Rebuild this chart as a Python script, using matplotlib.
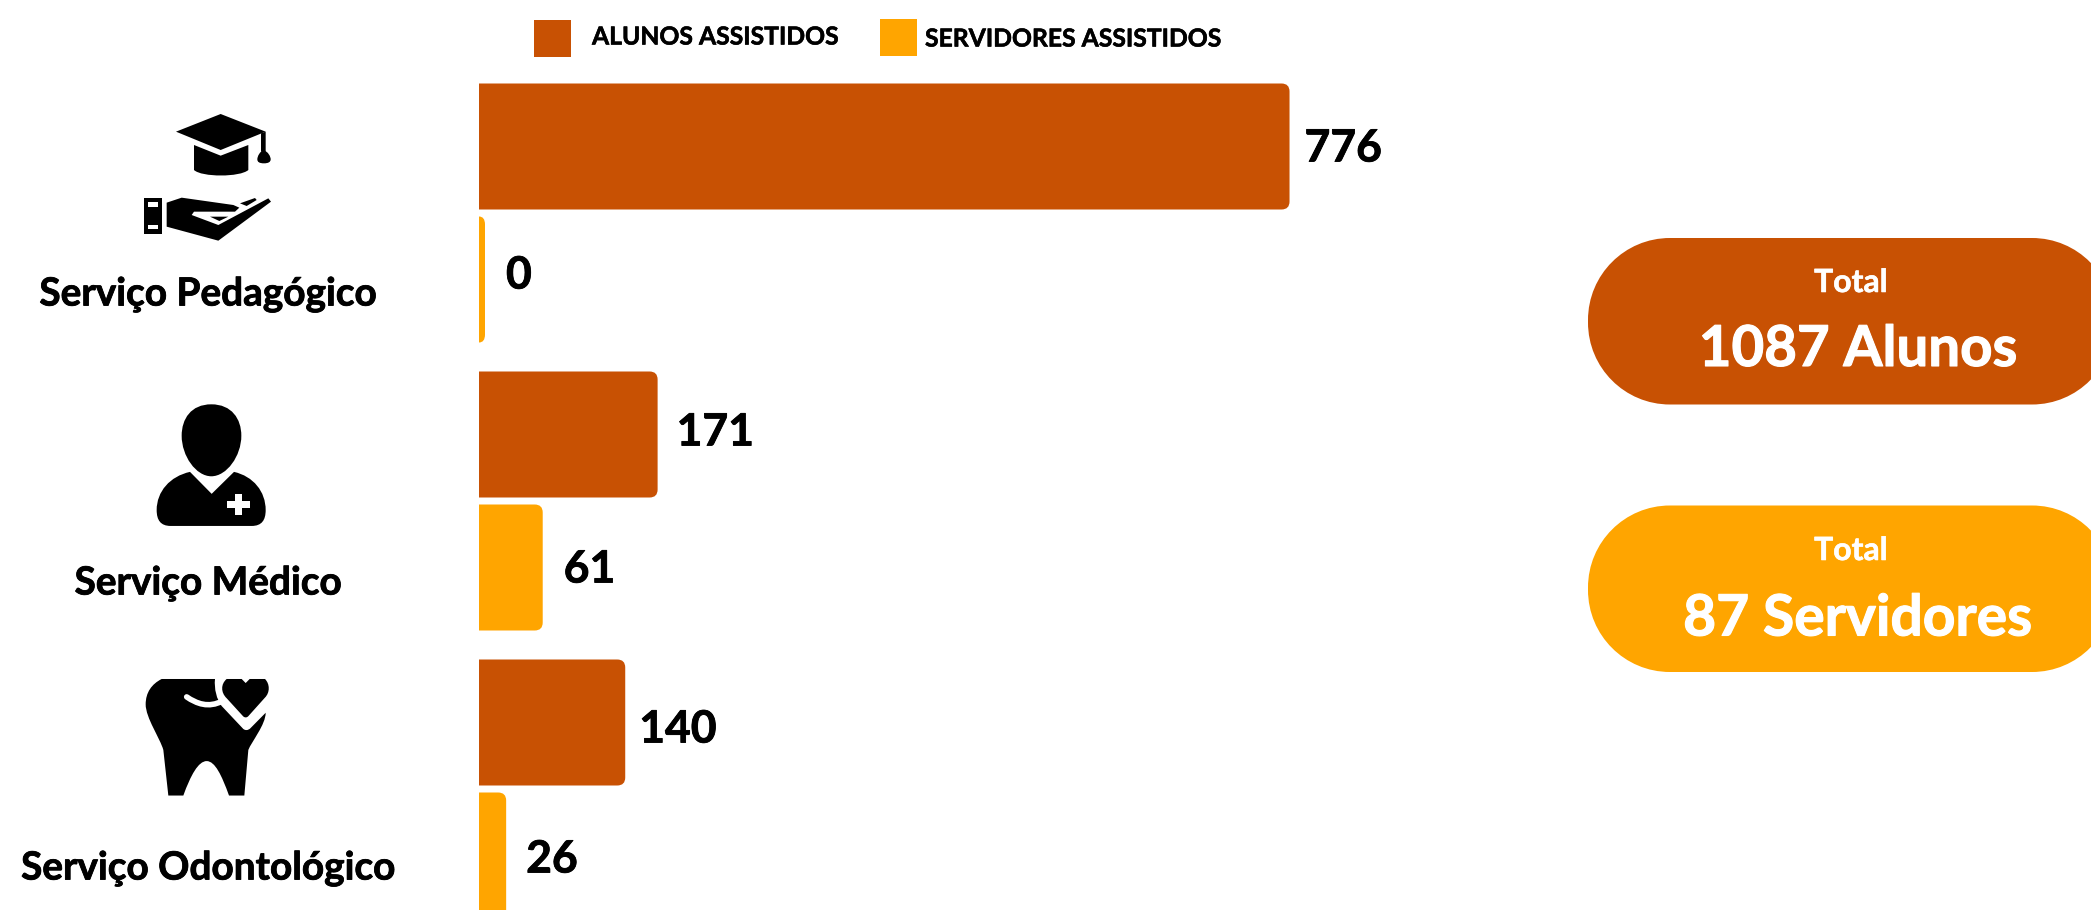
import matplotlib
matplotlib.use("Agg")
import matplotlib.pyplot as plt
import matplotlib.patheffects as pe
from matplotlib.path import Path
from matplotlib.patches import PathPatch, Rectangle, Polygon

plt.rcParams['font.family'] = ['Lato', 'DejaVu Sans']

categories = ["Serviço Pedagógico", "Serviço Médico", "Serviço Odontológico"]
alunos = [776, 171, 140]
servidores = [0, 61, 26]
legend_labels = ["ALUNOS ASSISTIDOS", "SERVIDORES ASSISTIDOS"]
total_labels = ["Total", "Total"]
total_values = ["1087 Alunos", "87 Servidores"]

DARK = "#C85103"
ORANGE = "#FFA500"
W, H = 2091, 910
PX_PER_UNIT = 1.0445
LEFT = 479
PITCH = 288
FIRST = 213
BAR_H = 126 / PITCH
OFF = 66.5 / PITCH
MIN_STUB = 6 / PX_PER_UNIT


def bold(color, lw=0.6):
    return [pe.withStroke(linewidth=lw, foreground=color)]


fig = plt.figure(figsize=(W / 100, H / 100), dpi=100, facecolor="white")

# data axes
ax = fig.add_axes([LEFT / W, 0, 1 - LEFT / W, 1])
ax.set_xlim(0, (W - LEFT) / PX_PER_UNIT)
ax.set_ylim((H - FIRST) / PITCH, -FIRST / PITCH)
ax.axis("off")


def rbar(y, v, color, rpx=8):
    v = max(v, MIN_STUB)
    rx = min(rpx / PX_PER_UNIT, v)
    ry = rpx / PITCH
    y0, y1 = y - BAR_H / 2, y + BAR_H / 2
    verts = [(0, y0), (v - rx, y0), (v, y0), (v, y0 + ry), (v, y1 - ry), (v, y1),
             (v - rx, y1), (0, y1), (0, y0)]
    codes = [Path.MOVETO, Path.LINETO, Path.CURVE3, Path.CURVE3, Path.LINETO,
             Path.CURVE3, Path.CURVE3, Path.LINETO, Path.CLOSEPOLY]
    ax.add_patch(PathPatch(Path(verts, codes), fc=color, ec="none"))


# label nudges in pixels: positive dy moves a label down
LABEL_DY = [[2, -4], [-2, 2], [7, 4]]
LABEL_DX = [[15, 21], [19, 21], [14, 20]]
for i, (a, s) in enumerate(zip(alunos, servidores)):
    rbar(i - OFF, a, DARK)
    rbar(i + OFF, s, ORANGE)
    ax.annotate(str(a), (a, i - OFF), xytext=(LABEL_DX[i][0] * 0.72, -LABEL_DY[i][0] * 0.72),
                textcoords="offset points", va="center", ha="left",
                fontsize=32, fontweight="bold", color="black", path_effects=bold("black"))
    ax.annotate(str(s), (max(s, MIN_STUB), i + OFF), xytext=(LABEL_DX[i][1] * 0.72, -LABEL_DY[i][1] * 0.72),
                textcoords="offset points", va="center", ha="left",
                fontsize=32, fontweight="bold", color="black", path_effects=bold("black"))

# overlay in pixel coordinates for legend, pills, icons, labels
ov = fig.add_axes([0, 0, 1, 1], zorder=5)
ov.set_xlim(0, W)
ov.set_ylim(H, 0)
ov.axis("off")
ov.patch.set_alpha(0)

# category labels
for name, y in zip(categories, [294, 583, 868]):
    ov.text(208, y, name, ha="center", va="center", fontsize=27.9, fontweight="bold",
            color="black", path_effects=bold("black"))

# legend
ov.add_patch(Rectangle((534, 20), 37, 37, fc=DARK, ec="none"))
ov.add_patch(Rectangle((880, 19), 37, 37, fc=ORANGE, ec="none"))
ov.text(592, 37, legend_labels[0], ha="left", va="center", fontsize=17.8, fontweight="bold",
        path_effects=bold("black", 0.4))
ov.text(925, 39, legend_labels[1], ha="left", va="center", fontsize=17.8, fontweight="bold",
        path_effects=bold("black", 0.4))


# pills
def pill(x0, y0, x1, y1, r, color):
    k = r * 0.5523
    v = [(x0 + r, y0), (x1 - r, y0), (x1 - r + k, y0), (x1, y0 + r - k), (x1, y0 + r),
         (x1, y1 - r), (x1, y1 - r + k), (x1 - r + k, y1), (x1 - r, y1),
         (x0 + r, y1), (x0 + r - k, y1), (x0, y1 - r + k), (x0, y1 - r),
         (x0, y0 + r), (x0, y0 + r - k), (x0 + r - k, y0), (x0 + r, y0), (x0 + r, y0)]
    c = [Path.MOVETO, Path.LINETO, Path.CURVE4, Path.CURVE4, Path.CURVE4,
         Path.LINETO, Path.CURVE4, Path.CURVE4, Path.CURVE4,
         Path.LINETO, Path.CURVE4, Path.CURVE4, Path.CURVE4,
         Path.LINETO, Path.CURVE4, Path.CURVE4, Path.CURVE4, Path.CLOSEPOLY]
    ov.add_patch(PathPatch(Path(v, c), fc=color, ec="none"))


pill(1588, 238, 2114, 404.5, 82, DARK)
pill(1588, 505.5, 2114, 672, 82, ORANGE)
ov.text(1851, 282.5, total_labels[0], ha="center", va="center", fontsize=23, fontweight="bold",
        color="white", path_effects=bold("white", 0.4))
ov.text(1851, 550.5, total_labels[1], ha="center", va="center", fontsize=23, fontweight="bold",
        color="white", path_effects=bold("white", 0.4))
ov.text(1858, 350, total_values[0], ha="center", va="center", fontsize=40.6, fontweight="bold",
        color="white", path_effects=bold("white", 0.8))
ov.text(1858, 619, total_values[1], ha="center", va="center", fontsize=41, fontweight="bold",
        color="white", path_effects=bold("white", 0.8))


# icons (zoom-crop coordinates -> figure pixels)
SY = 3.0


def P(points, ox, oy):
    return [(ox + x / 3, oy + y / SY) for x, y in points]


def poly(points, ox, oy, color="black"):
    ov.add_patch(Polygon(P(points, ox, oy), closed=True, fc=color, ec="none"))


def bez(start, segs, ox, oy, color="black"):
    v, c = [start], [Path.MOVETO]
    for s in segs:
        if len(s) == 1:
            v += s
            c += [Path.LINETO]
        else:
            v += s
            c += [Path.CURVE4] * 3
    v.append(start)
    c.append(Path.CLOSEPOLY)
    ov.add_patch(PathPatch(Path(P(v, ox, oy), c), fc=color, ec="none"))


ox, oy = 100, 90
# cap
poly([(228, 125), (362, 72), (497, 125), (362, 180)], ox, oy)
bez((282, 165), [[(362, 197)], [(445, 165)], [(445, 240)],
                 [(420, 262), (305, 262), (282, 240)]], ox, oy)
poly([(483, 130), (497, 125), (497, 185), (483, 185)], ox, oy)
bez((490, 180), [[(505, 185), (512, 200), (512, 208)], [(512, 216), (505, 220), (492, 220)],
                 [(478, 220), (472, 216), (472, 208)], [(472, 198), (480, 185), (490, 180)]], ox, oy)
# hand
ov.add_patch(Rectangle((ox + 132 / 3, oy + 323 / 3), 54 / 3, 110 / 3, fc="black", ec="none"))
for yy in (337, 405):
    ov.add_patch(Rectangle((ox + 145 / 3, oy + yy / 3), 28 / 3, 13 / 3, fc="white", ec="none"))
poly([(200, 338), (245, 323), (400, 345), (418, 353), (405, 365), (282, 365), (275, 375),
      (355, 405), (505, 325), (513, 335), (355, 452), (200, 410)], ox, oy)
poly([(420, 340), (465, 324), (470, 330), (440, 348)], ox, oy)
poly([(330, 380), (385, 380), (358, 393)], ox, oy)

ox, oy = 100, 380
SY = 2.96
# doctor
bez((334, 72), [[(395, 72), (424, 115), (424, 165)], [(424, 225), (380, 285), (334, 285)],
                [(288, 285), (245, 225), (245, 165)], [(245, 115), (273, 72), (334, 72)]], ox, oy)
bez((270, 272), [[(335, 337)], [(402, 272)], [(460, 285), (497, 330), (497, 385)],
                 [(497, 415), (485, 432), (455, 432)], [(212, 432)],
                 [(182, 432), (170, 415), (170, 385)], [(170, 330), (210, 285), (270, 272)]], ox, oy)
poly([(404, 337), (427, 337), (427, 357), (449, 357), (449, 380), (427, 380), (427, 400),
      (404, 400), (404, 380), (382, 380), (382, 357), (404, 357)], ox, oy, "white")
# tooth
bez((185, 885), [[(345, 885)], [(342, 915), (350, 945), (365, 965)], [(430, 1033)],
                 [(437, 1038), (443, 1037), (450, 1032)], [(497, 985)],
                 [(497, 1020), (455, 1070), (445, 1095)], [(433, 1230)], [(387, 1230)],
                 [(365, 1170), (345, 1128), (320, 1128)], [(295, 1128), (272, 1170), (250, 1230)],
                 [(205, 1230)], [(190, 1095)], [(180, 1060), (137, 1000), (137, 960)],
                 [(137, 925), (155, 900), (185, 885)]], ox, oy)
ov.add_patch(PathPatch(Path(P([(260, 938), (290, 958), (325, 972), (368, 950)], ox, oy),
                            [Path.MOVETO, Path.CURVE4, Path.CURVE4, Path.CURVE4]),
                       fc="none", ec="white", lw=4, capstyle="round"))
bez((380, 885), [[(425, 885)], [(437, 897)], [(449, 885)], [(495, 885)],
                 [(510, 900), (510, 925), (495, 940)], [(445, 995)],
                 [(440, 1000), (434, 1000), (429, 995)], [(380, 942)],
                 [(362, 925), (362, 900), (380, 885)]], ox, oy)

fig.savefig("out.png", dpi=100, facecolor="white")
